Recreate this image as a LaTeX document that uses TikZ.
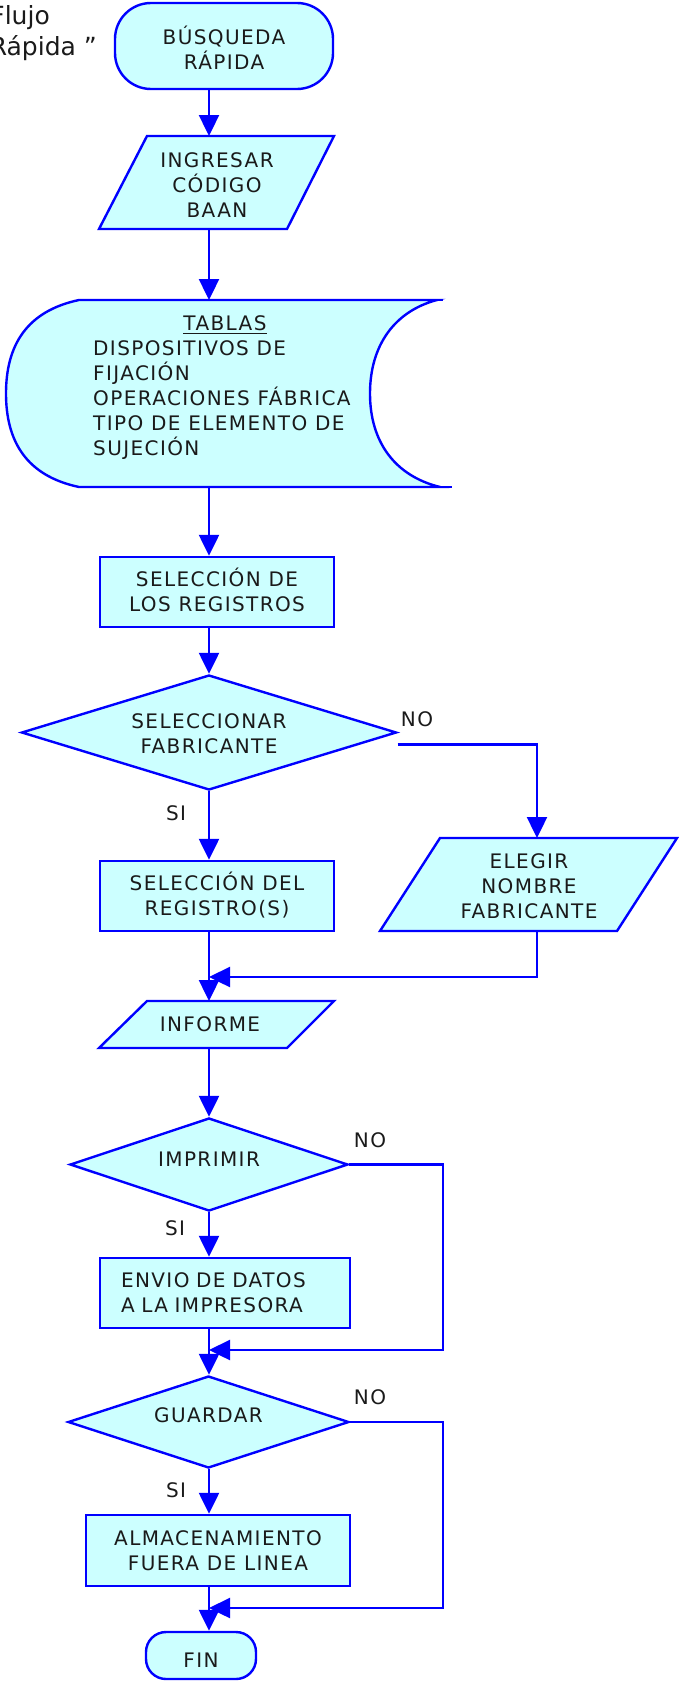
\documentclass[tikz,border=0pt]{standalone}
\usepackage{fontspec}
\setmainfont{DejaVu Sans}
\newfontfamily\chartfont[LetterSpace=7]{DejaVu Sans}
\usetikzlibrary{arrows.meta,shapes.geometric,calc}
\definecolor{flowblue}{RGB}{0,0,255}
\definecolor{flowfill}{RGB}{204,255,255}
\definecolor{inktext}{RGB}{26,26,26}

\begin{document}
\begin{tikzpicture}[x=1pt,y=-1pt,
  txt/.style={font=\chartfont\fontsize{20}{25}\selectfont, text=inktext,
    inner sep=0pt, text height=14.5pt, text depth=0pt, align=center},
  two/.style={text height=39.5pt},
  shapeline/.style={draw=flowblue, line width=2.4pt, fill=flowfill},
  procbox/.style={txt, shapeline, rectangle},
  termbox/.style={txt, shapeline, rectangle, rounded corners=#1},
  decision/.style={txt, shapeline, diamond},
  anchorbox/.style={txt, outer sep=0pt},
  arr/.style={draw=flowblue, line width=2.4pt, -{Triangle[length=21pt,width=20pt]}},
  wire/.style={draw=flowblue, line width=2.4pt},
  lbl/.style={txt},
  titletxt/.style={font=\fontsize{25}{30}\selectfont, text=inktext, inner sep=0pt, anchor=base east}
]
\useasboundingbox (0,0) rectangle (679,1681);

% heading fragment
\node[titletxt] (ttl1) at (50,24) {Flujo};
\node[titletxt] (ttl2) at (97,55) {Rápida ”};

% helper columns and junctions
\coordinate (col) at (209,0);
\coordinate (nox) at (537,0);
\coordinate (rail) at (443,0);
\coordinate (j1) at (209,977);
\coordinate (j2) at (209,1350);
\coordinate (j3) at (209,1608);

% start
\node[termbox=36pt, minimum width=218pt, minimum height=86pt, text height=46pt] (inicio) at (224,46) {BÚSQUEDA\\RÁPIDA};

% input: code
\path[shapeline] (147,136) -- (334,136) -- (287,229) -- (99,229) -- cycle;
\node[anchorbox, minimum height=93pt, text height=69pt] (ingresar) at (217,182.5) {INGRESAR\\CÓDIGO\\BAAN};

% stored data: tables
\path[shapeline] (79,300) -- (437,300)
  .. controls (395,311) and (370,345) .. (370,393.5)
  .. controls (370,442) and (395,476) .. (440,487)
  -- (79,487)
  .. controls (27,476) and (6,442) .. (6,393.5)
  .. controls (6,345) and (27,311) .. (79,300) -- cycle;
\draw[wire] (437,300) -- (443,300);
\draw[wire] (440,487) -- (452,487);
\node[anchorbox, minimum width=437pt, minimum height=187pt] (tablas) at (224.5,393.5) {};
\node[txt] (tabhead) at (225,323) {TABLAS};
\draw[line width=1.6pt, inktext] ([yshift=-3pt]tabhead.south west) -- ([yshift=-3pt]tabhead.south east);
\node[txt, align=left, anchor=west, text height=114.5pt] (tablist) at (93,398)
  {DISPOSITIVOS DE\\FIJACIÓN\\OPERACIONES FÁBRICA\\TIPO DE ELEMENTO DE\\SUJECIÓN};

% record selection
\node[procbox, two, minimum width=234pt, minimum height=70pt] (sel1) at (217,592) {SELECCIÓN DE\\LOS REGISTROS};

% manufacturer decision
\node[decision, minimum width=375pt, minimum height=115pt, shape aspect=3.26, text height=42pt] (fab) at (209,732.5) {SELECCIONAR\\FABRICANTE};

\node[procbox, two, minimum width=234pt, minimum height=70pt] (sel2) at (217,896) {SELECCIÓN DEL\\REGISTRO(S)};

\path[shapeline] (440,838) -- (677,838) -- (617,931) -- (380,931) -- cycle;
\node[anchorbox, minimum height=93pt, text height=67pt] (elegir) at (529,884.5) {ELEGIR\\NOMBRE\\FABRICANTE};

% report
\path[shapeline] (147,1001) -- (334,1001) -- (287,1048) -- (99,1048) -- cycle;
\node[anchorbox, minimum height=47pt] (informe) at (210,1024.5) {INFORME};

% print decision
\node[decision, minimum width=278pt, minimum height=93pt, shape aspect=3, text depth=11pt] (imp) at (209,1164.5) {IMPRIMIR};
\node[procbox, minimum width=250pt, minimum height=70pt, text width=208pt, inner xsep=21pt, align=left, text depth=25pt] (envio) at (225,1293) {ENVIO DE DATOS\\A LA IMPRESORA};

% save decision
\node[decision, minimum width=281pt, minimum height=92pt, shape aspect=3, text depth=14pt] (guar) at (208.5,1422) {GUARDAR};
\node[procbox, two, minimum width=264pt, minimum height=71pt] (alm) at (218,1550.5) {ALMACENAMIENTO\\FUERA DE LINEA};

% end
\node[termbox=20pt, minimum width=110pt, minimum height=47pt, text height=23pt] (fin) at (201,1655.5) {FIN};

% branch labels
\node[lbl] (no1) at (417,719) {NO};
\node[lbl] (si1) at (176,813) {SI};
\node[lbl] (no2) at (370,1140) {NO};
\node[lbl] (si2) at (175,1228) {SI};
\node[lbl] (no3) at (370,1397) {NO};
\node[lbl] (si3) at (176,1490) {SI};

% connectors
\draw[arr] (inicio.south -| col) -- (ingresar.north -| col);
\draw[arr] (ingresar.south -| col) -- (tablas.north -| col);
\draw[arr] (tablas.south -| col) -- (sel1.north -| col);
\draw[arr] (sel1.south -| col) -- (fab.north -| col);
\draw[arr] (fab.south -| col) -- (sel2.north -| col);
\draw[arr] ([yshift=-12pt]fab.east) -| (elegir.north -| nox);
\draw[arr] (sel2.south -| col) -- (informe.north -| col);
\draw[arr] (elegir.south -| nox) |- (j1);
\draw[arr] (informe.south -| col) -- (imp.north -| col);
\draw[arr] (imp.south -| col) -- (envio.north -| col);
\draw[arr] (imp.east) -| (rail |- j2) -- (j2);
\draw[arr] (envio.south -| col) -- (guar.north -| col);
\draw[arr] (guar.south -| col) -- (alm.north -| col);
\draw[arr] (guar.east) -| (rail |- j3) -- (j3);
\draw[arr] (alm.south -| col) -- (fin.north -| col);
\end{tikzpicture}
\end{document}
